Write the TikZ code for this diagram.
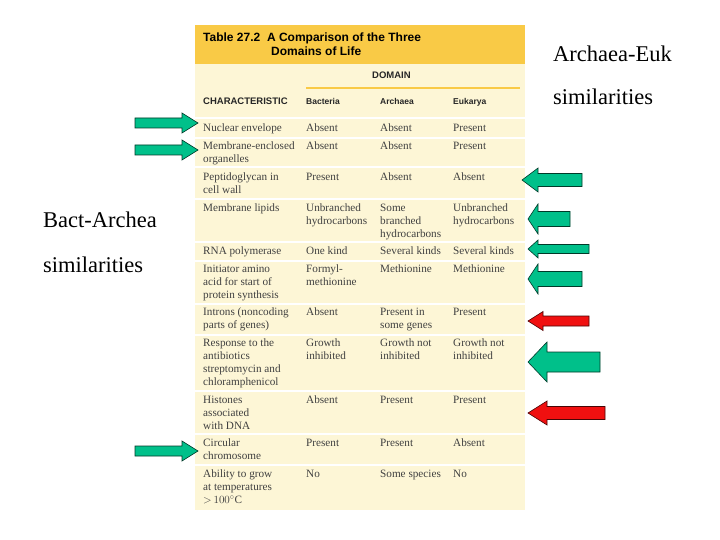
\documentclass[tikz,border=0pt]{standalone}
\usepackage{fontspec}
\setmainfont{Liberation Serif}
\newfontfamily\hsans{Liberation Sans}
\definecolor{tbg}{HTML}{FDF6D6}
\definecolor{thd}{HTML}{F9CA46}
\definecolor{agreen}{HTML}{00C08A}
\definecolor{ared}{HTML}{F01010}
\newcommand{\blkarrow}[8]{% name, tipx, tipy, tailx, bodyhalf, headhalf, headback x, color
  \draw[fill=#8, draw=black!70!#8, line width=0.6pt]
    (#2,#3) -- (#7,#3-#6) -- (#7,#3-#5) -- (#4,#3-#5) -- (#4,#3+#5) -- (#7,#3+#5) -- (#7,#3+#6) -- cycle;
  \coordinate (#1) at (#2,#3);}
\begin{document}
\begin{tikzpicture}[x=1pt,y=-1pt,
  cell/.style={anchor=north west,inner sep=0,yshift=8pt,font=\fontsize{11.2}{12.8}\selectfont,align=left,text=black!75},
  hcell/.style={anchor=base west,inner sep=0,font=\hsans\bfseries\fontsize{9.5}{11}\selectfont,text=black!85},
  lab/.style={anchor=base west,inner sep=0,font=\fontsize{22.5}{24}\selectfont},
  sep/.style={draw=white,line width=1.2pt}]
\useasboundingbox (0,0) rectangle (720,540);
\fill[white] (0,0) rectangle (720,540);
\fill[tbg] (195,25) rectangle (525,510);
\fill[thd] (195,25) rectangle (525,64);
\node[anchor=base west,inner sep=0,font=\hsans\bfseries\fontsize{12}{14}\selectfont] (title) at (203,42) {Table 27.2\ \ A Comparison of the Three};
\node[anchor=base west,inner sep=0,font=\hsans\bfseries\fontsize{12}{14}\selectfont] (title2) at (271,56) {Domains of Life};
\node[hcell] (dom) at (372,79) {DOMAIN};
\draw[thd,line width=1.2pt] (306,88) -- (520,88);
\node[hcell] (h0) at (203,105) {CHARACTERISTIC};
\node[hcell,font=\hsans\bfseries\fontsize{8.5}{10}\selectfont] (h1) at (306,105) {Bacteria};
\node[hcell,font=\hsans\bfseries\fontsize{8.5}{10}\selectfont] (h2) at (380,105) {Archaea};
\node[hcell,font=\hsans\bfseries\fontsize{8.5}{10}\selectfont] (h3) at (453,105) {Eukarya};
\foreach \yy in {118,138,167,199,242,261,304,335,391,434,465}{\draw[sep] (195,\yy) -- (525,\yy);}
% rows
\node[cell] at (203,132) {Nuclear envelope};
\node[cell] at (306,132) {Absent};
\node[cell] at (380,132) {Absent};
\node[cell] at (453,132) {Present};
\node[cell] at (203,150) {Membrane-enclosed\\organelles};
\node[cell] at (306,150) {Absent};
\node[cell] at (380,150) {Absent};
\node[cell] at (453,150) {Present};
\node[cell] at (203,181) {Peptidoglycan in\\cell wall};
\node[cell] at (306,181) {Present};
\node[cell] at (380,181) {Absent};
\node[cell] at (453,181) {Absent};
\node[cell] at (203,212) {Membrane lipids};
\node[cell] at (306,212) {Unbranched\\hydrocarbons};
\node[cell] at (380,212) {Some\\branched\\hydrocarbons};
\node[cell] at (453,212) {Unbranched\\hydrocarbons};
\node[cell] at (203,255) {RNA polymerase};
\node[cell] at (306,255) {One kind};
\node[cell] at (380,255) {Several kinds};
\node[cell] at (453,255) {Several kinds};
\node[cell] at (203,273) {Initiator amino\\acid for start of\\protein synthesis};
\node[cell] at (306,273) {Formyl-\\methionine};
\node[cell] at (380,273) {Methionine};
\node[cell] at (453,273) {Methionine};
\node[cell] at (203,316) {Introns (noncoding\\parts of genes)};
\node[cell] at (306,316) {Absent};
\node[cell] at (380,316) {Present in\\some genes};
\node[cell] at (453,316) {Present};
\node[cell] at (203,347) {Response to the\\antibiotics\\streptomycin and\\chloramphenicol};
\node[cell] at (306,347) {Growth\\inhibited};
\node[cell] at (380,347) {Growth not\\inhibited};
\node[cell] at (453,347) {Growth not\\inhibited};
\node[cell] at (203,404) {Histones\\associated\\with DNA};
\node[cell] at (306,404) {Absent};
\node[cell] at (380,404) {Present};
\node[cell] at (453,404) {Present};
\node[cell] at (203,447) {Circular\\chromosome};
\node[cell] at (306,447) {Present};
\node[cell] at (380,447) {Present};
\node[cell] at (453,447) {Absent};
\node[cell] at (203,478) {Ability to grow\\at temperatures\\${>}\,100^\circ$C};
\node[cell] at (306,478) {No};
\node[cell] at (380,478) {Some species};
\node[cell] at (453,478) {No};
% labels
\node[lab] (ae1) at (553,62) {Archaea-Euk};
\node[lab] (ae2) at (553,105) {similarities};
\node[lab] (ba1) at (43,228) {Bact-Archea};
\node[lab] (ba2) at (43,272) {similarities};
% right arrows
\blkarrow{r1}{522}{180}{582}{6.5}{12}{538}{agreen}
\blkarrow{r2}{528}{219}{570}{7.5}{15}{538}{agreen}
\blkarrow{r3}{528}{249}{589}{4.5}{9}{538}{agreen}
\blkarrow{r4}{528}{279}{582}{7.5}{15}{538}{agreen}
\blkarrow{r5}{528}{321}{589}{5}{9.5}{543}{ared}
\blkarrow{r6}{528}{362}{600}{10}{20}{547}{agreen}
\blkarrow{r7}{528}{413}{605}{6.5}{12}{547}{ared}
% left arrows
\blkarrow{l1}{198}{123}{135}{5}{10}{182}{agreen}
\blkarrow{l2}{198}{150}{135}{5}{10}{182}{agreen}
\blkarrow{l3}{198}{451}{135}{5}{10}{182}{agreen}
\end{tikzpicture}
\end{document}
